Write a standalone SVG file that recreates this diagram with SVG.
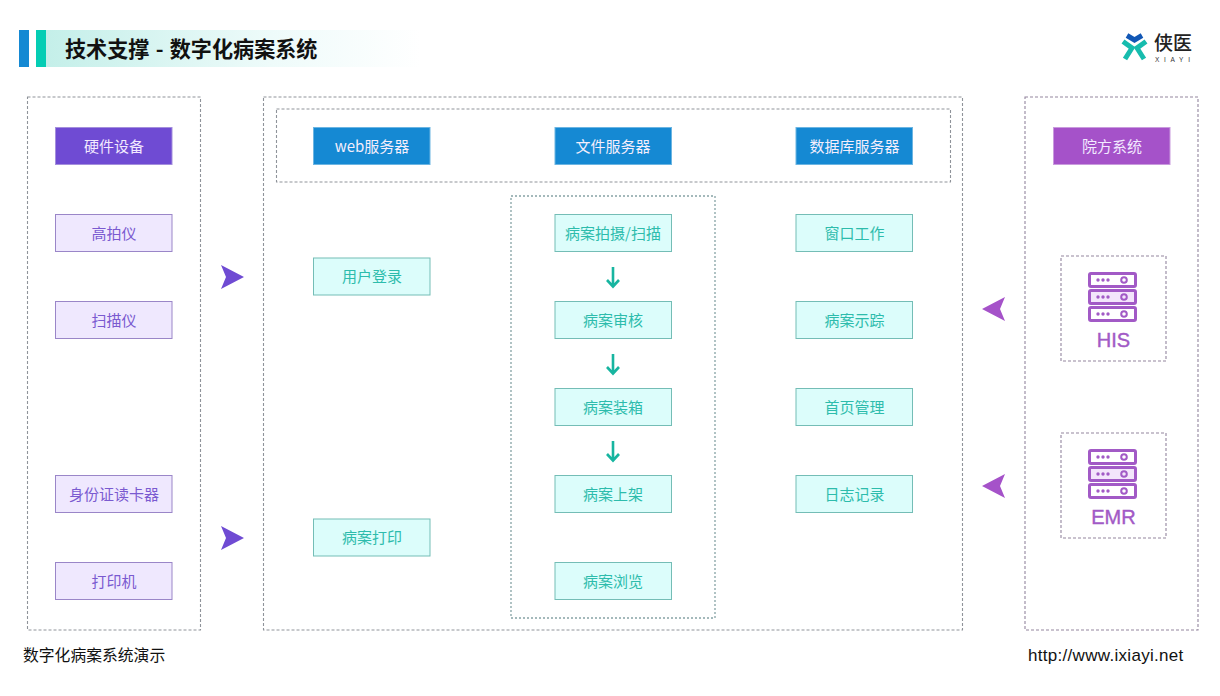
<svg xmlns="http://www.w3.org/2000/svg" width="1220" height="696" viewBox="0 0 1220 696">
<style>
text{font-family:"Noto Sans CJK SC","Liberation Sans",sans-serif}
.zone{fill:none;stroke:#8f939a;stroke-width:1.1;stroke-dasharray:3 2}
.zoneT{fill:none;stroke:#86a3a5;stroke-width:1.3;stroke-dasharray:2 2}
.zoneP{fill:none;stroke:#93859e;stroke-width:1.1;stroke-dasharray:3 2}
.lbl{font-size:15px;text-anchor:middle;dominant-baseline:central}
.hp{fill:#6f4bd3;stroke:#a48fdc}.hb{fill:#1589d3;stroke:#6cb5e2}.hv{fill:#a552c9;stroke:#c99bdd}
.ht{fill:#f2e9ff}
.p{fill:#efe8fe;stroke:#9a86c8}.pt{fill:#7a5ad0}
.t{fill:#dcfdfb;stroke:#74bdb6}.tt{fill:#2dbcac}
.wt{fill:#f4eefc}
.conn{fill:none;stroke:#17b5a0;stroke-width:2.6}
.srv{fill:none;stroke:#a25ac6;stroke-width:3}
.dot{fill:#a25ac6}
.latin{font-family:"Liberation Sans",sans-serif}
.sysl{font-size:20px;fill:#a25ac6;stroke:#a25ac6;stroke-width:.4;text-anchor:middle;font-family:"Liberation Sans",sans-serif}
</style>
<defs>
<linearGradient id="tg" x1="0" x2="1" y1="0" y2="0"><stop offset="0" stop-color="#c4efe9"/><stop offset=".6" stop-color="#eefbfa"/><stop offset="1" stop-color="#ffffff"/></linearGradient>
<g id="row"><rect x="1.500" y="1.500" width="46" height="13" rx="1.5" class="srv"/><circle cx="10" cy="8" r="1.700" class="dot"/><circle cx="15" cy="8" r="1.700" class="dot"/><circle cx="20" cy="8" r="1.700" class="dot"/><circle cx="36" cy="8" r="2.800" fill="none" stroke="#a25ac6" stroke-width="2"/></g>
<g id="server"><use href="#row"/><rect x="2" y="19" width="45" height="12" fill="#f3e5fb"/><use href="#row" y="17"/><use href="#row" y="34"/></g>
<path id="arR" d="M221 265L244 277L221 289L226 277Z"/>
<path id="arL" d="M1005 297L982 309L1005 321L1000 309Z"/>
</defs>

<g id="header">
<rect x="46" y="30" width="375" height="37" fill="url(#tg)"/>
<rect x="19" y="30" width="10" height="37" fill="#1589d3"/>
<rect x="36" y="30" width="10" height="37" fill="#04cdb4"/>
<text x="65" y="47.500" font-size="21.100" font-weight="700" word-spacing="1.500" fill="#111" dominant-baseline="central">技术支撑 - 数字化病案系统</text>
</g>
<g id="logo">
<path d="M1127 35.500L1134.500 40L1142 35.500" fill="none" stroke="#1257b5" stroke-width="5"/>
<path d="M1123 41.500L1132 48L1125 59" fill="none" stroke="#17bcae" stroke-width="5"/>
<path d="M1146 41.500L1137 48L1144 59" fill="none" stroke="#17bcae" stroke-width="5"/>
<text x="1154" y="50" font-size="19" font-weight="500" fill="#222">侠医</text>
<text x="1155" y="61.500" font-size="6.500" fill="#333" letter-spacing="4.700" class="latin">XIAYI</text>
</g>

<g id="zones">
<rect x="27.500" y="97" width="173" height="533" class="zone"/>
<rect x="263.500" y="97" width="699" height="533" class="zone"/>
<rect x="276.500" y="109" width="674" height="73" class="zone"/>
<rect x="511" y="196" width="204" height="422" class="zoneT"/>
<rect x="1025" y="97" width="173" height="533" class="zoneP"/>
<rect x="1061" y="256" width="105" height="105" class="zoneP"/>
<rect x="1061" y="433" width="105" height="105" class="zoneP"/>
</g>

<g id="connectors">
<g class="conn">
<path d="M613 267V286M607 280L613 286.500L619 280"/>
<path d="M613 354V373M607 367L613 373.500L619 367"/>
<path d="M613 441V460M607 454L613 460.500L619 454"/>
</g>
<use href="#arR" fill="#6f4bd3"/>
<use href="#arR" y="261" fill="#6f4bd3"/>
<use href="#arL" fill="#a552c9"/>
<use href="#arL" y="177" fill="#a552c9"/>
</g>

<g id="n-hw"><rect x="55.500" y="127.500" width="116.500" height="37" class="hp"/><text x="114" y="145" class="lbl ht">硬件设备</text></g>
<g id="n-web"><rect x="313.500" y="127.500" width="116.500" height="37" class="hb"/><text x="372" y="145" class="lbl wt">web服务器</text></g>
<g id="n-file"><rect x="555" y="127.500" width="116.500" height="37" class="hb"/><text x="613" y="145" class="lbl wt">文件服务器</text></g>
<g id="n-db"><rect x="796" y="127.500" width="116.500" height="37" class="hb"/><text x="854.500" y="145" class="lbl wt">数据库服务器</text></g>
<g id="n-hosp"><rect x="1053.500" y="127.500" width="116.500" height="37" class="hv"/><text x="1112" y="145" class="lbl ht">院方系统</text></g>

<g id="n-gpy"><rect x="55.500" y="214.500" width="116.500" height="37" class="p"/><text x="114" y="232" class="lbl pt">高拍仪</text></g>
<g id="n-smy"><rect x="55.500" y="301.500" width="116.500" height="37" class="p"/><text x="114" y="319" class="lbl pt">扫描仪</text></g>
<g id="n-idc"><rect x="55.500" y="475.500" width="116.500" height="37" class="p"/><text x="114" y="493" class="lbl pt">身份证读卡器</text></g>
<g id="n-prt"><rect x="55.500" y="562.500" width="116.500" height="37" class="p"/><text x="114" y="580" class="lbl pt">打印机</text></g>

<g id="n-login"><rect x="313.500" y="258" width="116.500" height="37" class="t"/><text x="372" y="275.500" class="lbl tt">用户登录</text></g>
<g id="n-print"><rect x="313.500" y="519" width="116.500" height="37" class="t"/><text x="372" y="536.500" class="lbl tt">病案打印</text></g>

<g id="n-scan"><rect x="555" y="214.500" width="116.500" height="37" class="t"/><text x="613" y="232" class="lbl tt">病案拍摄/扫描</text></g>
<g id="n-audit"><rect x="555" y="301.500" width="116.500" height="37" class="t"/><text x="613" y="319" class="lbl tt">病案审核</text></g>
<g id="n-box"><rect x="555" y="388.500" width="116.500" height="37" class="t"/><text x="613" y="406" class="lbl tt">病案装箱</text></g>
<g id="n-shelf"><rect x="555" y="475.500" width="116.500" height="37" class="t"/><text x="613" y="493" class="lbl tt">病案上架</text></g>
<g id="n-view"><rect x="555" y="562.500" width="116.500" height="37" class="t"/><text x="613" y="580" class="lbl tt">病案浏览</text></g>

<g id="n-win"><rect x="796" y="214.500" width="116.500" height="37" class="t"/><text x="854.500" y="232" class="lbl tt">窗口工作</text></g>
<g id="n-trace"><rect x="796" y="301.500" width="116.500" height="37" class="t"/><text x="854.500" y="319" class="lbl tt">病案示踪</text></g>
<g id="n-home"><rect x="796" y="388.500" width="116.500" height="37" class="t"/><text x="854.500" y="406" class="lbl tt">首页管理</text></g>
<g id="n-log"><rect x="796" y="475.500" width="116.500" height="37" class="t"/><text x="854.500" y="493" class="lbl tt">日志记录</text></g>

<g id="n-his"><use href="#server" x="1088" y="272"/><text x="1113.500" y="346.500" class="sysl">HIS</text></g>
<g id="n-emr"><use href="#server" x="1088" y="449"/><text x="1113.500" y="523.500" class="sysl">EMR</text></g>

<text id="foot-l" x="23" y="654" font-size="15.800" fill="#111" dominant-baseline="central">数字化病案系统演示</text>
<text id="foot-r" x="1028" y="661" font-size="17" letter-spacing="0.3" fill="#111" class="latin">http://www.ixiayi.net</text>
</svg>
